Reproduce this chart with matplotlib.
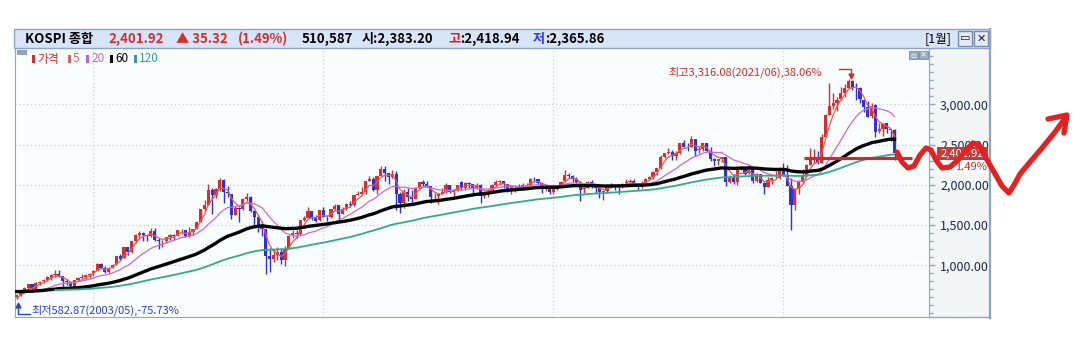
import numpy as np
import pandas as pd
import matplotlib
matplotlib.use('Agg')
import matplotlib.pyplot as plt
from matplotlib.patches import Rectangle
from matplotlib.lines import Line2D
from matplotlib.ticker import FuncFormatter, MultipleLocator

plt.rcParams['font.family'] = ['Noto Sans CJK KR', 'DejaVu Sans']

# KOSPI monthly candles, 2003/05 .. 2022/06 (one row per year)
opens = [
    599, 635, 672, 714, 760, 700, 780, 798,
    812, 846, 882, 885, 860, 806, 785, 737, 811, 837, 850, 875,
    897, 933, 1012, 965, 910, 971, 1010, 1112, 1084, 1222, 1160, 1298,
    1380, 1398, 1372, 1361, 1422, 1316, 1296, 1299, 1354, 1372, 1366, 1433,
    1436, 1361, 1416, 1454, 1543, 1702, 1745, 1934, 1874, 1948, 2066, 1907,
    1891, 1626, 1713, 1705, 1827, 1853, 1676, 1596, 1475, 1449, 1114, 1077,
    1125, 1163, 1064, 1207, 1370, 1397, 1391, 1558, 1593, 1674, 1582, 1557,
    1684, 1603, 1596, 1694, 1743, 1642, 1699, 1760, 1744, 1874, 1884, 1906,
    2052, 2071, 1940, 2108, 2193, 2144, 2102, 2134, 1881, 1771, 1910, 1849,
    1827, 1957, 2031, 2015, 1983, 1845, 1855, 1883, 1906, 1997, 1913, 1934,
    2031, 1963, 2027, 2005, 1965, 2002, 1864, 1915, 1927, 1998, 2031, 2046,
    2013, 1942, 1981, 1987, 1963, 1996, 2003, 2077, 2070, 2021, 1965, 1982,
    1914, 1950, 1986, 2043, 2128, 2116, 2075, 2031, 1942, 1964, 2031, 1993,
    1961, 1913, 1918, 1997, 1995, 1984, 1971, 2017, 2036, 2045, 2009, 1985,
    2027, 2069, 2093, 2161, 2206, 2348, 2393, 2404, 2364, 2395, 2524, 2477,
    2474, 2567, 2428, 2447, 2516, 2424, 2327, 2296, 2324, 2344, 2031, 2098,
    2041, 2206, 2196, 2142, 2205, 2043, 2132, 2026, 1969, 2064, 2085, 2089,
    2201, 2119, 1983, 1755, 1948, 2030, 2109, 2250, 2327, 2328, 2270, 2597,
    2874, 2976, 3014, 3070, 3148, 3205, 3297, 3203, 3205, 3056, 2970, 2860,
    2989, 2672, 2700, 2764, 2687, 2685,
]
highs = [
    640, 684, 724, 764, 768, 795, 805, 825,
    865, 892, 942, 939, 864, 825, 790, 811, 849, 889, 889, 900,
    945, 1022, 1022, 984, 973, 1015, 1111, 1136, 1221, 1232, 1297, 1385,
    1421, 1408, 1380, 1467, 1464, 1340, 1318, 1356, 1385, 1390, 1433, 1445,
    1438, 1470, 1453, 1548, 1701, 1808, 2005, 1957, 1955, 2085, 2071, 1990,
    1892, 1736, 1725, 1835, 1901, 1862, 1690, 1606, 1550, 1450, 1220, 1202,
    1229, 1219, 1244, 1374, 1435, 1441, 1560, 1612, 1723, 1675, 1620, 1690,
    1723, 1630, 1697, 1757, 1752, 1725, 1768, 1796, 1876, 1925, 1977, 2052,
    2116, 2094, 2107, 2231, 2229, 2145, 2188, 2174, 1909, 1946, 1960, 1930,
    1958, 2038, 2057, 2049, 1987, 1904, 1891, 1965, 2019, 2002, 1945, 2004,
    2042, 2035, 2030, 2006, 2022, 2012, 1920, 1945, 2012, 2064, 2060, 2048,
    2013, 1980, 1996, 2013, 2024, 2018, 2082, 2093, 2072, 2031, 1989, 1994,
    1958, 1989, 2045, 2190, 2145, 2125, 2095, 2045, 1968, 2050, 2064, 2005,
    1965, 1930, 2002, 2020, 1998, 2015, 2028, 2068, 2073, 2067, 2017, 2047,
    2090, 2104, 2178, 2214, 2371, 2402, 2453, 2430, 2425, 2524, 2562, 2517,
    2607, 2572, 2488, 2515, 2520, 2469, 2337, 2327, 2346, 2345, 2123, 2130,
    2210, 2240, 2206, 2253, 2212, 2144, 2136, 2031, 2093, 2097, 2169, 2210,
    2277, 2250, 2089, 1957, 2061, 2201, 2257, 2458, 2443, 2423, 2634, 2878,
    3266, 3146, 3090, 3222, 3249, 3316, 3306, 3270, 3215, 3061, 3039, 3017,
    3001, 2772, 2766, 2765, 2690, 2694,
]
lows = [
    583, 620, 657, 687, 681, 694, 754, 772,
    798, 820, 848, 850, 728, 753, 719, 731, 805, 835, 830, 845,
    868, 924, 960, 903, 904, 966, 1006, 1059, 1084, 1125, 1155, 1270,
    1320, 1307, 1298, 1355, 1300, 1200, 1230, 1270, 1318, 1310, 1360, 1385,
    1345, 1355, 1378, 1450, 1540, 1670, 1745, 1638, 1840, 1920, 1772, 1845,
    1575, 1621, 1537, 1685, 1800, 1662, 1488, 1409, 1366, 892, 917, 1043,
    1069, 1018, 992, 1200, 1340, 1338, 1378, 1548, 1587, 1560, 1536, 1555,
    1600, 1552, 1590, 1690, 1532, 1640, 1683, 1724, 1737, 1870, 1874, 1890,
    2045, 1926, 1882, 2105, 2046, 2007, 2088, 1684, 1644, 1706, 1797, 1751,
    1820, 1945, 1990, 1960, 1780, 1798, 1758, 1880, 1895, 1900, 1850, 1927,
    1940, 1930, 1955, 1880, 1950, 1770, 1830, 1845, 1918, 1990, 1995, 1960,
    1916, 1880, 1913, 1955, 1940, 1973, 1990, 2030, 2015, 1903, 1920, 1881,
    1883, 1936, 1978, 2033, 2080, 2030, 2015, 1800, 1900, 1964, 1957, 1900,
    1830, 1817, 1916, 1965, 1935, 1892, 1962, 2004, 1986, 2000, 1931, 1960,
    2023, 2060, 2075, 2123, 2200, 2328, 2389, 2310, 2311, 2389, 2470, 2420,
    2467, 2363, 2396, 2425, 2405, 2297, 2238, 2248, 2284, 1985, 2025, 2005,
    1993, 2190, 2118, 2140, 2021, 2040, 2018, 1892, 1967, 2010, 2081, 2070,
    2105, 1980, 1439, 1683, 1885, 2012, 2098, 2249, 2271, 2262, 2267, 2591,
    2869, 2940, 2925, 3061, 3090, 3190, 3175, 3055, 3017, 2902, 2838, 2837,
    2591, 2651, 2608, 2645, 2546, 2314,
]
closes = [
    633, 670, 712, 760, 698, 778, 796, 811,
    848, 880, 883, 863, 804, 786, 735, 810, 835, 849, 874, 896,
    933, 1011, 966, 911, 970, 1008, 1111, 1083, 1221, 1158, 1297, 1379,
    1400, 1372, 1360, 1420, 1318, 1295, 1298, 1353, 1371, 1365, 1432, 1435,
    1360, 1417, 1453, 1542, 1701, 1744, 1933, 1873, 1947, 2065, 1906, 1897,
    1625, 1712, 1704, 1826, 1852, 1675, 1595, 1474, 1448, 1113, 1076, 1125,
    1162, 1063, 1206, 1369, 1396, 1390, 1557, 1592, 1673, 1581, 1556, 1683,
    1602, 1595, 1693, 1742, 1641, 1698, 1759, 1743, 1873, 1883, 1905, 2051,
    2070, 1939, 2107, 2192, 2143, 2101, 2133, 1880, 1770, 1909, 1848, 1826,
    1956, 2030, 2014, 1982, 1844, 1854, 1882, 1905, 1996, 1912, 1933, 1997,
    1962, 2027, 2005, 1964, 2001, 1863, 1914, 1926, 1997, 2030, 2045, 2011,
    1941, 1980, 1986, 1962, 1995, 2002, 2076, 2069, 2020, 1964, 1981, 1916,
    1949, 1986, 2041, 2127, 2115, 2074, 2030, 1941, 1963, 2030, 1992, 1961,
    1912, 1917, 1996, 1994, 1983, 1970, 2016, 2035, 2044, 2008, 1984, 2027,
    2068, 2092, 2160, 2205, 2347, 2392, 2403, 2363, 2394, 2523, 2476, 2467,
    2566, 2427, 2446, 2515, 2423, 2326, 2295, 2323, 2343, 2030, 2097, 2041,
    2205, 2195, 2141, 2204, 2042, 2131, 2025, 1968, 2063, 2084, 2088, 2198,
    2119, 1987, 1755, 1948, 2030, 2108, 2249, 2326, 2328, 2267, 2591, 2873,
    2976, 3013, 3061, 3148, 3204, 3297, 3202, 3199, 3069, 2971, 2839, 2978,
    2663, 2699, 2758, 2695, 2686, 2402,
]
# earlier month-end closes (1994/04 .. 2003/04), only used to warm up the moving averages
prior_closes = [
    914, 935, 927, 946, 967, 1031, 1069, 1126, 1027,
    926, 880, 911, 880, 857, 888, 948, 928, 984, 930, 962, 882,
    861, 866, 891, 965, 984, 897, 832, 814, 827, 782, 768, 651,
    676, 677, 633, 704, 760, 745, 738, 695, 647, 470, 407, 376,
    506, 520, 481, 410, 337, 297, 354, 310, 310, 404, 449, 562,
    567, 522, 618, 752, 729, 883, 931, 943, 887, 812, 981, 1028,
    943, 829, 860, 725, 731, 821, 705, 688, 613, 514, 526, 505,
    615, 576, 523, 567, 595, 595, 541, 545, 479, 535, 632, 693,
    752, 814, 904, 838, 796, 743, 717, 718, 646, 668, 713, 628,
    592, 575, 536, 599,
]
ma_periods = [5, 20, 60, 120]
ma_colors = ['#ec5a52', '#cc66dd', '#000000', '#36a88e']
ma_widths = [0.9, 0.9, 2.4, 1.3]
year_marks = [20, 80, 140, 200]          # 2005/01, 2010/01, 2015/01, 2020/01
price_levels = [1000, 1500, 2000, 2500, 3000]
drawn_level = 2338                       # red line drawn by the user
drawn_span = (205.4, 233.6)

RED = '#d42e2e'
BLUE = '#2f32d2'
FRAME = '#8ea4c4'
W, H = 1091, 340


def fx(x):
    return x / W


def fy(y):
    return 1 - y / H


# the HTS draws linearly weighted moving averages
def wma(series, p):
    w = np.arange(1, p + 1, dtype=float)
    return series.rolling(p).apply(lambda a: np.dot(a, w) / w.sum(), raw=True)


fig = plt.figure(figsize=(W / 100, H / 100), dpi=100)
fig.patch.set_facecolor('white')

# right price panel and window frame
fig.add_artist(Rectangle((fx(929), fy(317)), fx(989) - fx(929), fy(48) - fy(317),
                         transform=fig.transFigure, facecolor='#f2f6f7', edgecolor='none', zorder=0))
fig.add_artist(Line2D([fx(989.5), fx(989.5)], [fy(29), fy(318)], transform=fig.transFigure,
                      color=FRAME, lw=1.6))
fig.add_artist(Line2D([fx(929), fx(990)], [fy(317), fy(317)], transform=fig.transFigure,
                      color=FRAME, lw=1.0))

ax = fig.add_axes([fx(15), fy(317), fx(929) - fx(15), fy(48) - fy(317)])
ax.set_facecolor('#f9fdfd')

n = len(closes)
idx = np.arange(n)
o = np.array(opens, float)
h = np.array(highs, float)
l = np.array(lows, float)
c = np.array(closes, float)
colors = np.where(c >= o, RED, BLUE)

ax.vlines(idx, l, h, colors=colors, linewidth=1.0, zorder=3)
body = np.maximum(np.abs(c - o), 6)
ax.bar(idx, body, bottom=np.minimum(o, c), width=0.85, color=colors, linewidth=0, zorder=3,
       antialiased=False)

full = pd.Series(prior_closes + closes, dtype=float)
for p, col, lw in zip(ma_periods, ma_colors, ma_widths):
    ma = wma(full, p).to_numpy()[len(prior_closes):]
    ax.plot(idx, ma, color=col, lw=lw, zorder=4)

ax.hlines(drawn_level, drawn_span[0], drawn_span[1], color='#ee1c1c', lw=2.2, zorder=6)

ax.set_xlim(-0.44, 238)
ax.set_ylim(355, 3703)
ax.set_xticks(year_marks)
ax.set_xticklabels([])
ax.tick_params(axis='x', length=0)
ax.set_yticks(price_levels)
ax.yaxis.set_minor_locator(MultipleLocator(100))
ax.yaxis.tick_right()
ax.yaxis.set_major_formatter(FuncFormatter(lambda v, pos: f'{v:,.2f}'))
ax.tick_params(axis='y', which='major', direction='out', length=4, width=1, color=FRAME,
               labelsize=9, labelcolor='#1c2a48', pad=4)
ax.tick_params(axis='y', which='minor', direction='out', length=3, width=1, color=FRAME)
ax.grid(True, which='major', ls=(0, (1, 2.5)), color='#c4c9ce', lw=0.8)
ax.set_axisbelow(True)
for side in ['left', 'bottom', 'right']:
    ax.spines[side].set_color(FRAME)
ax.spines['top'].set_visible(False)

# title bar
fig.add_artist(Rectangle((fx(14), fy(48)), fx(990) - fx(14), fy(29) - fy(48), transform=fig.transFigure,
                         facecolor='#d8e4f8', edgecolor=FRAME, lw=1.0))
title_bits = [
    (25, 'KOSPI 종합', 'black'), (108, '2,401.92', RED), (176, '▲ 35.32', RED),
    (238, '(1.49%)', RED), (302, '510,587', 'black'), (362, '시:2,383.20', 'black'),
    (448, '고', '#ee1010'), (460, ':2,418.94', 'black'), (533, '저', '#3838ee'),
    (545, ':2,365.86', 'black'),
]
for x, s, col in title_bits:
    fig.text(fx(x), fy(39), s, ha='left', va='center', fontsize=9.5, fontweight='bold', color=col)
fig.text(fx(925), fy(39), '[1월]', ha='left', va='center', fontsize=9, color='black')
for x0, glyph in [(958, '▭'), (974, '✕')]:
    fig.add_artist(Rectangle((fx(x0), fy(46)), fx(14), 15 / H, transform=fig.transFigure,
                             facecolor='#e2eaf6', edgecolor='#7a8aa6', lw=1.0))
    fig.text(fx(x0 + 7), fy(38.5), glyph, ha='center', va='center', fontsize=8,
             fontweight='bold', color='#202020', family='DejaVu Sans')

# small buttons in the plot corner
for x0, glyph in [(909, '▫'), (919, '×')]:
    fig.add_artist(Rectangle((fx(x0), fy(59)), fx(9), 8 / H, transform=fig.transFigure,
                             facecolor='#9aaccc', edgecolor='#7a8aa6', lw=0.6))
    fig.text(fx(x0 + 4.5), fy(55), glyph, ha='center', va='center', fontsize=6,
             color='white', family='DejaVu Sans')

# legend
fig.add_artist(Rectangle((fx(17), fy(55)), fx(10), 5 / H, transform=fig.transFigure,
                         facecolor=FRAME, edgecolor='none'))
legend_bits = [(32, '가격', RED), (68, '5', '#e06060'), (86, '20', '#c060d0'),
               (110, '60', 'black'), (134, '120', '#30a090')]
for x, s, col in legend_bits:
    fig.add_artist(Rectangle((fx(x), fy(63)), fx(3), 8 / H, transform=fig.transFigure,
                             facecolor=col, edgecolor='none'))
    fig.text(fx(x + 5), fy(59), s, ha='left', va='center', fontsize=8.5, color=col)

# high / low annotations
fig.text(fx(668), fy(72), '최고3,316.08(2021/06),38.06%', ha='left', va='center', fontsize=8, color=RED)
fig.add_artist(Line2D([fx(839), fx(851), fx(851)], [fy(69), fy(69), fy(75)], transform=fig.transFigure,
                      color=RED, lw=1.0))
fig.add_artist(Line2D([fx(851)], [fy(76)], transform=fig.transFigure, marker='v', ms=3.5,
                      color=RED, lw=0))
fig.text(fx(31), fy(310), '최저582.87(2003/05),-75.73%', ha='left', va='center', fontsize=8, color='#3040c8')
fig.add_artist(Line2D([fx(30), fx(17.5), fx(17.5)], [fy(313.5), fy(313.5), fy(306)],
                      transform=fig.transFigure, color='#3040c8', lw=1.0))
fig.add_artist(Line2D([fx(17.5)], [fy(305)], transform=fig.transFigure, marker='^', ms=3.5,
                      color='#3040c8', lw=0))

# current price tag on the axis
fig.add_artist(Rectangle((fx(937), fy(159.5)), fx(988) - fx(937), 12.5 / H, transform=fig.transFigure,
                         facecolor='#c83a3a', edgecolor='none', zorder=5))
fig.text(fx(962.5), fy(153.5), '2,401.92', ha='center', va='center', fontsize=8, color='white', zorder=6)
fig.add_artist(Rectangle((fx(937), fy(174)), fx(988) - fx(937), 14.5 / H, transform=fig.transFigure,
                         facecolor='white', edgecolor='none', zorder=5))
fig.text(fx(987), fy(167), '1.49%', ha='right', va='center', fontsize=8, color=RED, zorder=6)

# hand-drawn red squiggle with arrow
sq_x = [897, 902, 908, 914, 920, 926, 931, 936, 942, 950, 958, 966, 973, 979, 986, 994, 1002,
        1009, 1014, 1020, 1030, 1042, 1055, 1066]
sq_y = [152, 162, 168, 166, 155, 148, 150, 160, 168, 167, 160, 150, 143, 145, 158, 172, 186,
        193, 185, 174, 162, 148, 132, 117]
fig.add_artist(Line2D([fx(x) for x in sq_x], [fy(y) for y in sq_y], transform=fig.transFigure,
                      color='#e42020', lw=3.8, solid_capstyle='round', solid_joinstyle='round', zorder=10))
fig.add_artist(Line2D([fx(1048), fx(1067), fx(1064)], [fy(119), fy(115), fy(133)],
                      transform=fig.transFigure, color='#e42020', lw=3.8,
                      solid_capstyle='round', solid_joinstyle='round', zorder=10))

fig.savefig('out.png', dpi=100)
